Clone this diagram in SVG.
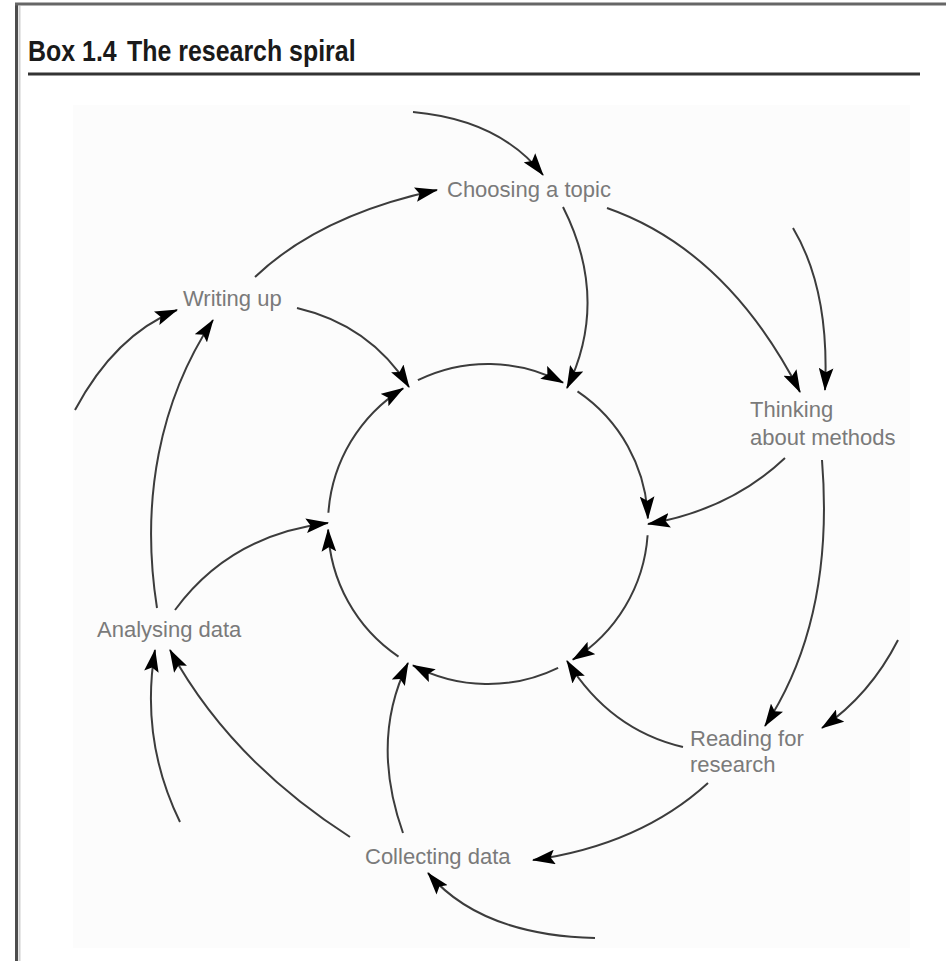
<svg xmlns="http://www.w3.org/2000/svg" width="946" height="961" viewBox="0 0 946 961">
<defs>
<style>
.lbl{font-family:"Liberation Sans",Arial,sans-serif;font-size:22px;fill:#7a7a7a;}
.ttl{font-family:"Liberation Sans",Arial,sans-serif;font-size:29px;font-weight:bold;fill:#1a1a1a;}
.c{fill:none;stroke:#3c3c3c;stroke-width:2;marker-end:url(#ah);}
</style>
<marker id="ah" viewBox="0 0 22 14" markerWidth="23" markerHeight="15" refX="21" refY="7" orient="auto" markerUnits="userSpaceOnUse">
<path d="M0,0 L22,7 L0,14 L4,7 Z" fill="#000"/>
</marker>
</defs>
<rect x="0" y="0" width="946" height="961" fill="#ffffff"/>
<rect x="73" y="105" width="837" height="843" fill="#fcfcfc"/>
<g id="frame">
<line x1="16.5" y1="3" x2="16.5" y2="961" stroke="#4d4d4d" stroke-width="3"/>
<line x1="19.5" y1="6" x2="19.5" y2="961" stroke="#d0d0d0" stroke-width="2"/>
<line x1="15" y1="4" x2="946" y2="4" stroke="#666" stroke-width="3"/>
</g>
<g id="title">
<text class="ttl" transform="translate(28,61) scale(0.86,1)" x="0" y="0">Box 1.4<tspan dx="12">The research spiral</tspan></text>
<line x1="28" y1="74" x2="920" y2="74" stroke="#333" stroke-width="3"/>
</g>
<g id="connectors">
<!-- inner circle arcs -->
<path class="c" d="M417.9,380.2 A160,160 0 0 1 563.1,382.7"/>
<path class="c" d="M577.5,391.4 A160,160 0 0 1 647.9,518.4"/>
<path class="c" d="M647.6,535.2 A160,160 0 0 1 572.8,659.7"/>
<path class="c" d="M558.1,667.8 A160,160 0 0 1 412.9,665.3"/>
<path class="c" d="M398.5,656.6 A160,160 0 0 1 328.1,529.6"/>
<path class="c" d="M328.4,512.8 A160,160 0 0 1 403.2,388.3"/>
<!-- outer spiral -->
<path class="c" d="M255,277 Q320,215 437,190"/>
<path class="c" d="M607,208 Q727,250 800,392"/>
<path class="c" d="M822,460 C830,560 815,650 765,726"/>
<path class="c" d="M708,783 Q640,845 533,860"/>
<path class="c" d="M350,837 Q230,760 170,650"/>
<path class="c" d="M157,608 C140,500 160,400 213,320"/>
<!-- spokes to circle -->
<path class="c" d="M563,207 Q610,300 567,388"/>
<path class="c" d="M297,308 Q370,325 409,387"/>
<path class="c" d="M785,458 Q730,510 648,524"/>
<path class="c" d="M683,747 Q610,730 567,661"/>
<path class="c" d="M403,833 Q370,740 408,663"/>
<path class="c" d="M175,610 Q230,535 328,523"/>
<!-- incoming stubs -->
<path class="c" d="M413,112 Q500,120 543,175"/>
<path class="c" d="M793,228 Q830,290 825,390"/>
<path class="c" d="M898,640 Q870,695 822,728"/>
<path class="c" d="M595,938 Q480,935 428,873"/>
<path class="c" d="M180,822 Q140,740 155,650"/>
<path class="c" d="M75,410 Q115,335 177,310"/>
</g>
<g id="choosing"><text class="lbl" x="447" y="197">Choosing a topic</text></g>
<g id="thinking"><text class="lbl" x="750" y="417">Thinking</text><text class="lbl" x="750" y="445">about methods</text></g>
<g id="reading"><text class="lbl" x="690" y="746">Reading for</text><text class="lbl" x="690" y="772">research</text></g>
<g id="collecting"><text class="lbl" x="365" y="864">Collecting data</text></g>
<g id="analysing"><text class="lbl" x="97" y="637">Analysing data</text></g>
<g id="writing"><text class="lbl" x="183" y="306">Writing up</text></g>
</svg>
